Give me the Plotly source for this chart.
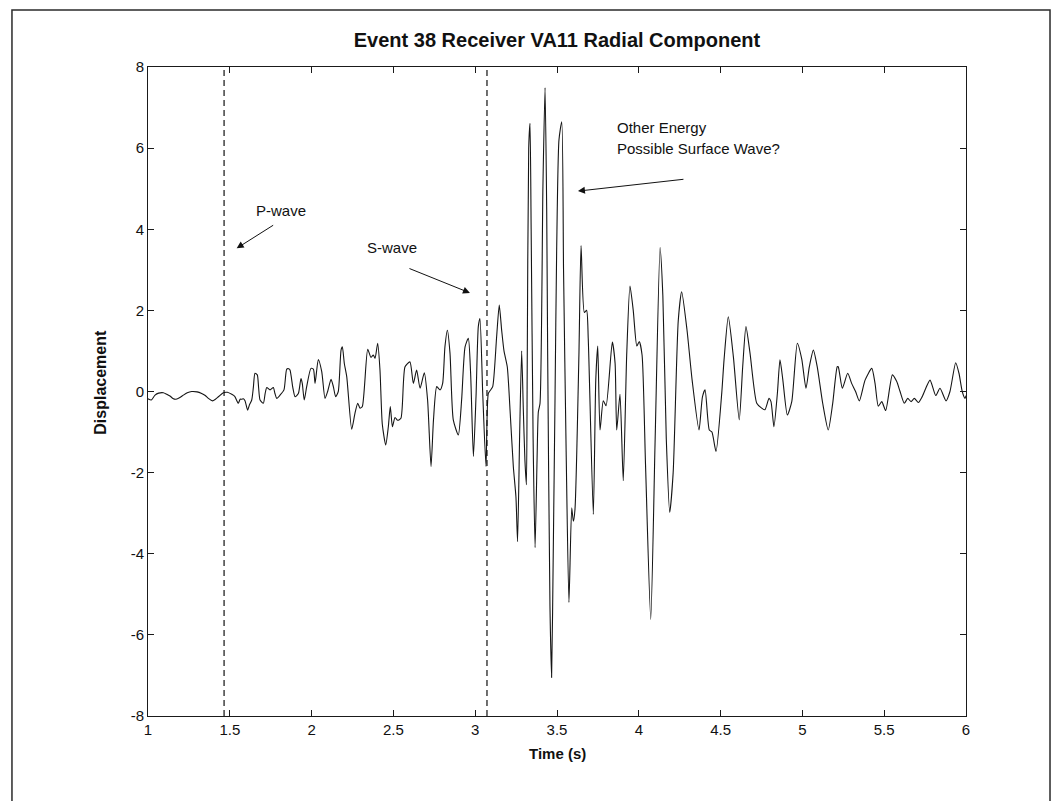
import plotly.graph_objects as go

# ---- data ----
time_s = [
    1.000, 1.020, 1.043, 1.065, 1.094, 1.115, 1.134, 1.152, 1.171, 1.195, 1.216, 1.240, 1.267, 1.300,
    1.328, 1.350, 1.369, 1.395, 1.412, 1.430, 1.460, 1.485, 1.512, 1.530, 1.552, 1.563, 1.573, 1.583,
    1.593, 1.609, 1.620, 1.634, 1.644, 1.654, 1.668, 1.676, 1.685, 1.705, 1.716, 1.726, 1.746, 1.766,
    1.776, 1.787, 1.807, 1.831, 1.848, 1.860, 1.868, 1.885, 1.899, 1.919, 1.935, 1.943, 1.955, 1.970,
    1.996, 2.011, 2.021, 2.041, 2.062, 2.082, 2.098, 2.119, 2.133, 2.147, 2.163, 2.180, 2.188, 2.200,
    2.215, 2.245, 2.265, 2.282, 2.296, 2.310, 2.343, 2.363, 2.377, 2.388, 2.404, 2.418, 2.432, 2.453,
    2.469, 2.481, 2.494, 2.510, 2.526, 2.546, 2.571, 2.601, 2.622, 2.642, 2.663, 2.689, 2.709, 2.730,
    2.745, 2.765, 2.785, 2.801, 2.815, 2.830, 2.846, 2.866, 2.897, 2.917, 2.938, 2.958, 2.972, 2.989,
    3.005, 3.019, 3.029, 3.046, 3.066, 3.080, 3.093, 3.107, 3.131, 3.147, 3.162, 3.176, 3.196, 3.213,
    3.233, 3.249, 3.259, 3.272, 3.284, 3.294, 3.304, 3.313, 3.318, 3.327, 3.335, 3.342, 3.354, 3.366,
    3.378, 3.386, 3.396, 3.414, 3.427, 3.437, 3.443, 3.457, 3.467, 3.477, 3.488, 3.498, 3.512, 3.529,
    3.540, 3.556, 3.573, 3.590, 3.600, 3.610, 3.634, 3.647, 3.667, 3.681, 3.691, 3.722, 3.737, 3.749,
    3.763, 3.783, 3.800, 3.838, 3.855, 3.865, 3.885, 3.905, 3.926, 3.946, 3.966, 3.988, 4.003, 4.020,
    4.041, 4.073, 4.100, 4.130, 4.147, 4.168, 4.189, 4.210, 4.241, 4.262, 4.294, 4.326, 4.368, 4.389,
    4.405, 4.431, 4.447, 4.472, 4.507, 4.521, 4.547, 4.578, 4.614, 4.635, 4.655, 4.680, 4.721, 4.751,
    4.771, 4.796, 4.808, 4.826, 4.847, 4.863, 4.880, 4.908, 4.935, 4.969, 4.996, 5.022, 5.042, 5.067,
    5.091, 5.124, 5.158, 5.185, 5.213, 5.219, 5.244, 5.277, 5.301, 5.325, 5.348, 5.383, 5.424, 5.444,
    5.464, 5.485, 5.509, 5.550, 5.576, 5.597, 5.623, 5.644, 5.664, 5.684, 5.709, 5.733, 5.780, 5.815,
    5.841, 5.878, 5.902, 5.937, 5.957, 5.977, 5.994, 6.000,
]
displacement = [
    -0.18, -0.21, -0.09, -0.04, -0.03, -0.07, -0.11, -0.17, -0.19, -0.15, -0.09, -0.03, 0.00, -0.01,
    -0.05, -0.10, -0.17, -0.23, -0.19, -0.13, -0.03, -0.02, -0.07, -0.12, -0.29, -0.19, -0.19, -0.18,
    -0.23, -0.46, -0.33, -0.21, 0.10, 0.45, 0.41, 0.10, -0.21, -0.29, -0.05, 0.10, 0.04, 0.10,
    -0.05, -0.17, -0.09, 0.04, 0.55, 0.56, 0.53, 0.10, -0.13, -0.05, 0.32, 0.20, -0.21, 0.12,
    0.57, 0.55, 0.20, 0.79, 0.49, -0.17, 0.00, 0.30, 0.12, -0.13, 0.00, 1.02, 1.10, 0.69,
    0.36, -0.93, -0.54, -0.29, -0.41, -0.37, 1.04, 0.84, 0.90, 0.82, 1.19, 0.53, -0.80, -1.32,
    -0.87, -0.37, -0.87, -0.64, -0.71, -0.66, 0.61, 0.73, 0.20, 0.53, 0.08, 0.46, -0.21, -1.85,
    -0.70, 0.12, 0.04, 0.20, 1.10, 1.51, 0.94, -0.70, -1.07, -0.21, 1.10, 1.31, 0.45, -1.60,
    -0.13, 1.60, 1.80, -0.05, -1.85, -0.05, 0.03, 0.12, 1.35, 2.13, 1.50, 1.00, 0.61, -0.46,
    -1.85, -2.60, -3.70, -1.00, 1.00, -0.43, -1.70, -2.30, 0.60, 6.00, 6.61, 4.00, -1.16, -3.85,
    -1.70, -0.50, -0.30, 5.06, 7.49, 4.50, 0.90, -5.30, -7.05, -4.00, -0.13, 3.50, 6.20, 6.65,
    3.00, -1.50, -5.20, -2.87, -3.20, -2.90, 0.90, 3.60, 1.95, 2.00, 1.30, -3.03, 0.28, 1.12,
    -0.95, -0.23, -0.35, 1.22, 0.70, -0.95, -0.07, -2.20, 0.90, 2.60, 2.00, 1.12, 1.23, 0.90,
    -1.79, -5.62, -1.16, 3.55, 2.36, -1.16, -2.98, -2.00, 1.74, 2.46, 1.54, 0.28, -0.95, -0.13,
    0.04, -0.95, -1.00, -1.48, -0.04, 0.78, 1.84, 0.86, -0.70, 0.61, 1.60, 0.94, -0.29, -0.41,
    -0.45, -0.17, -0.25, -0.87, -0.05, 0.78, 0.30, -0.58, -0.25, 1.19, 0.80, 0.08, 0.60, 1.02,
    0.60, -0.29, -0.95, -0.30, 0.61, 0.61, 0.08, 0.45, 0.20, 0.00, -0.23, 0.28, 0.57, 0.20,
    -0.36, -0.25, -0.47, 0.41, 0.25, 0.00, -0.29, -0.17, -0.25, -0.17, -0.27, -0.12, 0.28, -0.10,
    0.08, -0.23, 0.00, 0.71, 0.45, 0.00, -0.17, -0.10,
]
pick_times = [1.465, 3.072]          # P-wave and S-wave picks (dashed lines)
x_tick_vals = [1, 1.5, 2, 2.5, 3, 3.5, 4, 4.5, 5, 5.5, 6]
x_tick_text = ["1", "1.5", "2", "2.5", "3", "3.5", "4", "4.5", "5", "5.5", "6"]
y_tick_vals = [-8, -6, -4, -2, 0, 2, 4, 6, 8]
y_tick_text = ["-8", "-6", "-4", "-2", "0", "2", "4", "6", "8"]

FONT = "Liberation Sans, Arial, Helvetica, sans-serif"
INK = "#111111"

fig = go.Figure()
fig.add_trace(go.Scatter(x=time_s, y=displacement, mode="lines",
                         line=dict(color="#151515", width=1.1, shape="spline", smoothing=0.6),
                         showlegend=False, hoverinfo="skip"))

for pt in pick_times:
    fig.add_shape(type="line", xref="x", yref="y", x0=pt, x1=pt, y0=-8, y1=8,
                  line=dict(color="#111111", width=1.2, dash="6px,4px"))

# outer figure border
fig.add_shape(type="rect", xref="paper", yref="paper",
              x0=-0.1663, x1=1.1027, y0=-0.16, y1=1.0878,
              line=dict(color="#2a2a2a", width=1.5))

ann_font = dict(family=FONT, size=15, color=INK)
arrow_style = dict(arrowhead=2, arrowsize=1.4, arrowwidth=1, arrowcolor=INK)
annotations = [
    dict(x=1.813, y=4.47, xref="x", yref="y", text="P-wave", showarrow=False, font=ann_font),
    dict(x=1.542, y=3.53, xref="x", yref="y", text="", showarrow=True, ax=38, ay=-24,
         **arrow_style),
    dict(x=2.49, y=3.56, xref="x", yref="y", text="S-wave", showarrow=False, font=ann_font),
    dict(x=2.968, y=2.43, xref="x", yref="y", text="", showarrow=True, ax=-62, ay=-25,
         **arrow_style),
    dict(x=3.855, y=6.5, xref="x", yref="y", text="Other Energy", showarrow=False,
         xanchor="left", font=ann_font),
    dict(x=3.855, y=5.98, xref="x", yref="y", text="Possible Surface Wave?", showarrow=False,
         xanchor="left", font=ann_font),
    dict(x=3.628, y=4.94, xref="x", yref="y", text="", showarrow=True, ax=107, ay=-12,
         **arrow_style),
    dict(x=0.5, y=-0.058, xref="paper", yref="paper", text="<b>Time (s)</b>", showarrow=False,
         font=dict(family=FONT, size=15, color=INK), yanchor="middle"),
    dict(x=-0.0575, y=0.515, xref="paper", yref="paper", text="<b>Displacement</b>",
         showarrow=False, textangle=-90, font=dict(family=FONT, size=16, color=INK),
         xanchor="center", yanchor="middle"),
]

fig.update_layout(
    width=1062, height=801, autosize=False,
    margin=dict(l=148, r=96, t=67, b=85),
    paper_bgcolor="white", plot_bgcolor="white",
    title=dict(text="<b>Event 38 Receiver VA11 Radial Component</b>",
               x=0.5, xref="paper", y=1 - 40 / 801, yref="container",
               xanchor="center", yanchor="middle",
               font=dict(family=FONT, size=20, color=INK)),
    annotations=annotations,
    font=dict(family=FONT, size=15, color=INK),
)
fig.update_xaxes(range=[1, 6], tickvals=x_tick_vals, ticktext=x_tick_text,
                 ticks="inside", ticklen=6, tickcolor="#1a1a1a", showline=True,
                 linecolor="#1a1a1a", linewidth=1, mirror="ticks", showgrid=False,
                 zeroline=False, tickfont=dict(family=FONT, size=15, color=INK))
fig.update_yaxes(range=[-8, 8], tickvals=y_tick_vals, ticktext=y_tick_text,
                 ticks="inside", ticklen=6, tickcolor="#1a1a1a", showline=True,
                 linecolor="#1a1a1a", linewidth=1, mirror="ticks", showgrid=False,
                 zeroline=False, tickfont=dict(family=FONT, size=15, color=INK))

fig.write_html("out.html")
